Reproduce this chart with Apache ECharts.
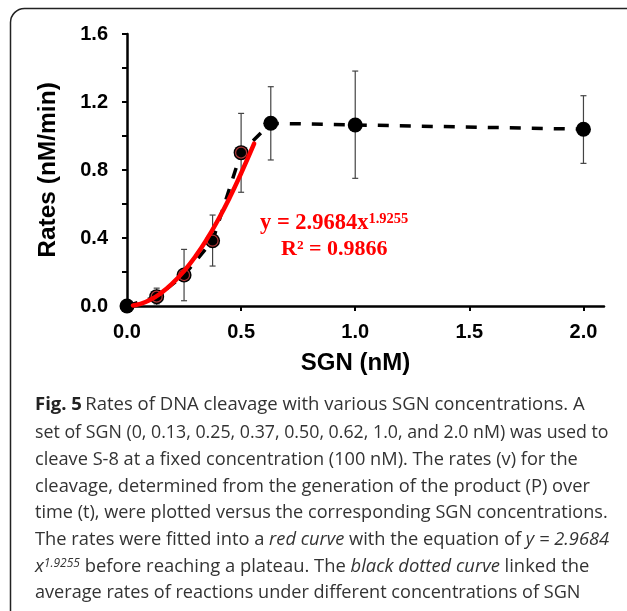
<!DOCTYPE html>
<html><head><meta charset="utf-8">
<script src="https://cdn.jsdelivr.net/npm/echarts@6/dist/echarts.min.js"></script>
<style>html,body{margin:0;padding:0;background:#fff}#c{width:627px;height:611px}</style>
</head><body><div id="c"></div>
<script>
// ---- data ----
const sgn      = [0, 0.13, 0.25, 0.375, 0.50, 0.63, 1.0, 2.0];
const rates    = [0, 0.055, 0.182, 0.384, 0.902, 1.075, 1.065, 1.04];
const errHigh  = [0, 0.105, 0.333, 0.535, 1.133, 1.29, 1.382, 1.237];
const errLow   = [0, 0.005, 0.031, 0.235, 0.669, 0.859, 0.751, 0.839];
const fitIdx   = [1, 2, 3, 4];
const fitX     = [0.026, 0.05, 0.1, 0.15, 0.2, 0.25, 0.3, 0.35, 0.4, 0.45, 0.5, 0.557];
const fitY     = [0.003, 0.009, 0.035, 0.077, 0.134, 0.206, 0.292, 0.393, 0.509, 0.638, 0.781, 0.955];
const xTickLabels = [0, 0.5, 1.0, 1.5, 2.0];
const yTickLabels = [0, 0.4, 0.8, 1.2, 1.6];
const xName = 'SGN (nM)';
const yName = 'Rates (nM/min)';
const eqLine1 = 'y = 2.9684x';
const eqSup   = '1.9255';
const eqLine2 = 'R² = 0.9866';
const captionLines = [
  '{b|Fig. 5} {n|Rates of DNA cleavage with various SGN concentrations. A}',
  '{n|set of SGN (0, 0.13, 0.25, 0.37, 0.50, 0.62, 1.0, and 2.0 nM) was used to}',
  '{n|cleave S-8 at a fixed concentration (100 nM). The rates (v) for the}',
  '{n|cleavage, determined from the generation of the product (P) over}',
  '{n|time (t), were plotted versus the corresponding SGN concentrations.}',
  '{n|The rates were fitted into a }{i|red curve}{n| with the equation of }{i|y = 2.9684}',
  '{i|x}{s|1.9255}{n| before reaching a plateau. The }{i|black dotted curve}{n| linked the}',
  '{n|average rates of reactions under different concentrations of SGN}'
];

const chart = echarts.init(document.getElementById('c'), null, {renderer: 'canvas'});
const capFont = 'Open Sans';
const capSizes = [18.5, 17.8, 18.2, 18.3, 18.1, 18.3, 18.4, 18.1];
const capColor = '#333';
function capRich(sz) {
  return {
    n: {fontFamily: capFont, fontSize: sz, fill: capColor, color: capColor},
    b: {fontFamily: capFont, fontSize: sz, fontWeight: 'bold', fill: '#222', color: '#222'},
    i: {fontFamily: capFont, fontSize: sz, fontStyle: 'italic', fill: capColor, color: capColor},
    s: {fontFamily: capFont, fontSize: 12, fontStyle: 'italic', fill: capColor, color: capColor, verticalAlign: 'top'}
  };
}
const capY = [405, 432.5, 459.5, 486.5, 513, 540, 566.5, 593];
const graphics = [
  {type: 'rect', silent: true, shape: {x: 10.5, y: 8.5, width: 640, height: 620, r: 14},
   style: {fill: 'none', stroke: '#222', lineWidth: 1.5}},
  {type: 'text', left: 260, top: 212, silent: true,
   style: {text: '{m|' + eqLine1 + '}{s|' + eqSup + '}',
     rich: {
       m: {fontFamily: 'Liberation Serif', fontSize: 22.5, fontWeight: 'bold', fill: '#ff0000', color: '#ff0000'},
       s: {fontFamily: 'Liberation Serif', fontSize: 14.5, fontWeight: 'bold', fill: '#ff0000', color: '#ff0000', verticalAlign: 'top'}
     }}},
  {type: 'text', left: 281, top: 238, silent: true,
   style: {text: eqLine2, fontFamily: 'Liberation Serif', fontSize: 22, fontWeight: 'bold', fill: '#ff0000'}}
];
captionLines.forEach((t, k) => {
  graphics.push({type: 'text', x: 35, y: capY[k], silent: true,
    style: {text: t, rich: capRich(capSizes[k]), verticalAlign: 'middle', align: 'left'}});
});

const axisFont = {fontFamily: 'Liberation Sans', fontWeight: 'bold', color: '#000'};

chart.setOption({
  backgroundColor: '#fff',
  animation: false,
  grid: {left: 127, right: 23, top: 34, bottom: 305, containLabel: false, outerBoundsMode: 'none'},
  xAxis: {
    type: 'value', min: 0, max: 2.09,
    name: xName, nameLocation: 'middle', nameGap: 45,
    nameTextStyle: Object.assign({fontSize: 24, padding: [0, 20, 0, 0]}, axisFont),
    axisLine: {show: true, onZero: false, lineStyle: {color: '#000', width: 2.5}},
    axisTick: {show: true, length: 5, customValues: xTickLabels, lineStyle: {color: '#000', width: 2}},
    axisLabel: Object.assign({fontSize: 20, margin: 16, customValues: xTickLabels,
      formatter: v => v.toFixed(1)}, axisFont),
    splitLine: {show: false}
  },
  yAxis: {
    type: 'value', min: 0, max: 1.6, interval: 0.2,
    name: yName, nameLocation: 'middle', nameGap: 66, nameRotate: 90,
    nameTextStyle: Object.assign({fontSize: 24.5}, axisFont),
    axisLine: {show: true, lineStyle: {color: '#000', width: 2.5}},
    axisTick: {show: true, length: 5, lineStyle: {color: '#000', width: 2}},
    axisLabel: Object.assign({fontSize: 20, margin: 19, customValues: yTickLabels,
      formatter: v => v.toFixed(1)}, axisFont),
    splitLine: {show: false}
  },
  graphic: graphics,
  series: [
    {
      type: 'line', z: 1, data: sgn.map((x, i) => [x, rates[i]]),
      symbol: 'none', clip: false,
      lineStyle: {color: '#000', width: 3.5, type: [11, 11], cap: 'butt'}
    },
    {
      type: 'custom', z: 2, clip: false,
      data: sgn.map((x, i) => [x, errHigh[i], errLow[i]]).slice(1),
      renderItem: (params, api) => {
        const x = api.value(0);
        const top = api.coord([x, api.value(1)]);
        const bot = api.coord([x, api.value(2)]);
        const w = 3;
        const st = {stroke: '#444', lineWidth: 1.2};
        return {type: 'group', children: [
          {type: 'line', shape: {x1: top[0], y1: top[1], x2: bot[0], y2: bot[1]}, style: st},
          {type: 'line', shape: {x1: top[0] - w, y1: top[1], x2: top[0] + w, y2: top[1]}, style: st},
          {type: 'line', shape: {x1: bot[0] - w, y1: bot[1], x2: bot[0] + w, y2: bot[1]}, style: st}
        ]};
      }
    },
    {
      type: 'scatter', z: 3, clip: false, symbol: 'circle', symbolSize: 15,
      data: sgn.map((x, i) => [x, rates[i]]),
      itemStyle: {color: '#000', opacity: 1}
    },
    {
      type: 'scatter', z: 4, clip: false, symbol: 'circle', symbolSize: 11,
      data: fitIdx.map(i => [sgn[i], rates[i]]),
      itemStyle: {color: '#000', borderColor: '#b23a3a', borderWidth: 1.2, opacity: 1}
    },
    {
      type: 'line', z: 5, smooth: true, symbol: 'none', clip: false,
      data: fitX.map((x, i) => [x, fitY[i]]),
      lineStyle: {color: '#ff0000', width: 4.5, cap: 'round'}
    }
  ]
});
</script></body></html>
